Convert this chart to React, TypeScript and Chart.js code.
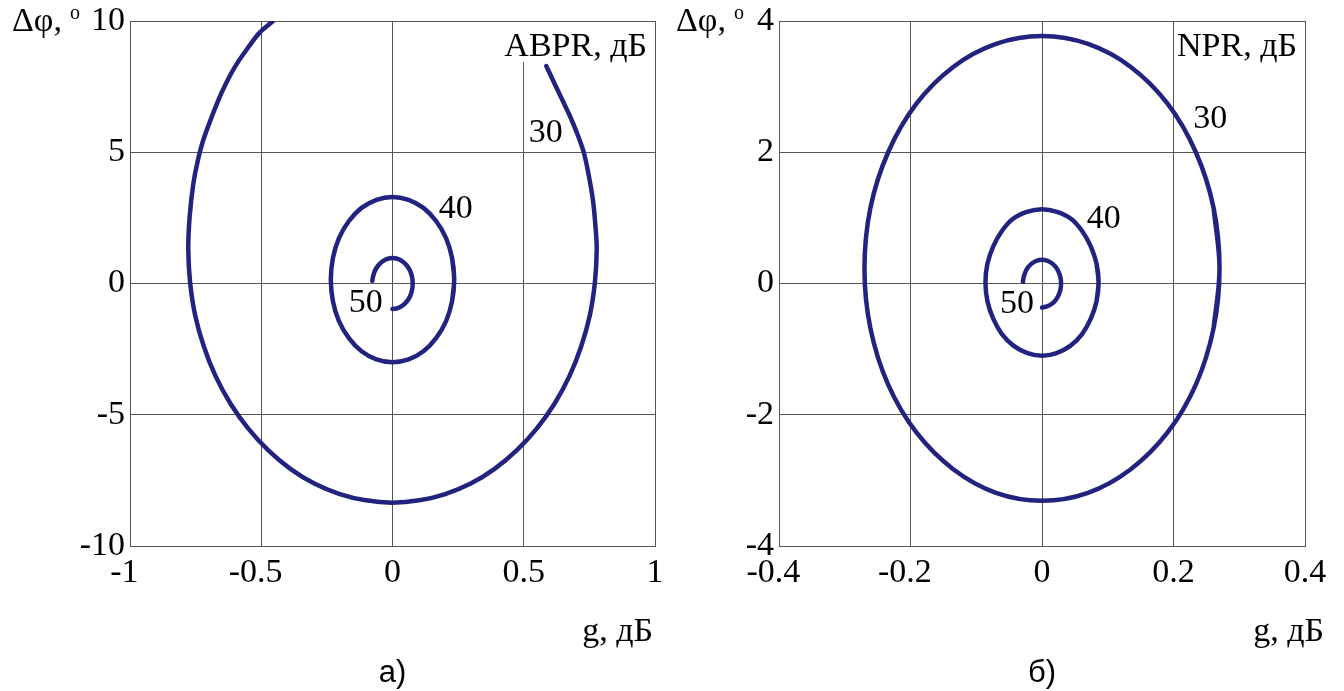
import { useEffect, useRef } from "react";
import { Chart, registerables } from "chart.js";

Chart.register(...registerables);

const SERIF = '"Liberation Serif", "Times New Roman", serif';
const SANS = '"Liberation Sans", Arial, sans-serif';
const LINE_COLOR = "#22227f";
const GRID_COLOR = "#555555";

// ---------- panel а): ABPR contours ----------
const abprXTicks = [-1, -0.5, 0, 0.5, 1];
const abprXLabels = ["-1", "-0.5", "0", "0.5", "1"];
const abprYTicks = [-10, -5, 0, 5, 10];
const abprYLabels = ["-10", "-5", "0", "5", "10"];

// ABPR = 30 dB (open contour, leaves through the top edge)
const abpr30G = [
  -0.455, -0.507, -0.542, -0.595, -0.633, -0.665, -0.718, -0.742, -0.759, -0.773, -0.778, -0.771,
  -0.752, -0.719, -0.674, -0.617, -0.55, -0.474, -0.389, -0.298, -0.201, -0.102, 0.0, 0.102, 0.201,
  0.298, 0.389, 0.474, 0.55, 0.617, 0.674, 0.719, 0.752, 0.771, 0.778, 0.773, 0.764, 0.748, 0.729,
  0.704, 0.675, 0.649, 0.618, 0.586,
];
const abpr30Phi = [
  10.0, 9.55, 9.1, 8.34, 7.65, 6.95, 5.55, 4.67, 3.78, 2.51, 1.3, 0.04, -1.2, -2.39, -3.53, -4.58,
  -5.52, -6.35, -7.06, -7.62, -8.02, -8.26, -8.35, -8.26, -8.02, -7.62, -7.06, -6.35, -5.52, -4.58,
  -3.53, -2.39, -1.2, 0.04, 1.3, 2.2, 3.14, 4.1, 4.98, 5.7, 6.4, 6.95, 7.6, 8.28,
];
// ABPR = 40 dB (closed loop; first and last segments overlap to hide the seam)
const abpr40G = [
  0.227, 0.235, 0.227, 0.204, 0.166, 0.118, 0.061, 0.0, -0.061, -0.118, -0.166, -0.204, -0.227,
  -0.235, -0.227, -0.204, -0.166, -0.118, -0.061, 0.0, 0.061, 0.118, 0.166, 0.204, 0.227, 0.235,
  0.227,
];
const abpr40Phi = [
  -0.67, 0.15, 0.97, 1.73, 2.38, 2.88, 3.19, 3.3, 3.19, 2.88, 2.38, 1.73, 0.97, 0.15, -0.67, -1.43,
  -2.08, -2.58, -2.89, -3.0, -2.89, -2.58, -2.08, -1.43, -0.67, 0.15, 0.97,
];
// ABPR = 50 dB (partial arc)
const abpr50G = [
  -0.077, -0.0744, -0.067, -0.0544, -0.0385, -0.02, 0.0, 0.02, 0.0385, 0.0544, 0.067, 0.0744,
  0.077, 0.0744, 0.067, 0.0544, 0.0385, 0.02, 0.0,
];
const abpr50Phi = [
  0.1, 0.251, 0.485, 0.686, 0.84, 0.937, 0.97, 0.937, 0.84, 0.686, 0.485, 0.251, 0.0, -0.251,
  -0.485, -0.686, -0.84, -0.937, -0.97,
];

// ---------- panel б): NPR contours ----------
const nprXTicks = [-0.4, -0.2, 0, 0.2, 0.4];
const nprXLabels = ["-0.4", "-0.2", "0", "0.2", "0.4"];
const nprYTicks = [-4, -2, 0, 2, 4];
const nprYLabels = ["-4", "-2", "0", "2", "4"];

// NPR = 30 dB (closed loop)
const npr30G = [
  0.261, 0.27, 0.261, 0.234, 0.191, 0.135, 0.07, 0.0, -0.07, -0.135, -0.191, -0.234, -0.261, -0.27,
  -0.261, -0.234, -0.191, -0.135, -0.07, 0.0, 0.07, 0.135, 0.191, 0.234, 0.261, 0.27, 0.261,
];
const npr30Phi = [
  -0.68, 0.23, 1.15, 2.0, 2.74, 3.3, 3.65, 3.77, 3.65, 3.3, 2.74, 2.0, 1.15, 0.23, -0.68, -1.54,
  -2.27, -2.83, -3.19, -3.31, -3.19, -2.83, -2.27, -1.54, -0.68, 0.23, 1.15,
];
// NPR = 40 dB (closed loop)
const npr40G = [
  0.083, 0.086, 0.083, 0.074, 0.061, 0.045, 0.023, 0.0, -0.023, -0.045, -0.061, -0.074, -0.083,
  -0.086, -0.083, -0.074, -0.061, -0.043, -0.022, 0.0, 0.022, 0.043, 0.061, 0.074, 0.083, 0.086,
  0.083,
];
const npr40Phi = [
  -0.27, 0.02, 0.3, 0.57, 0.8, 0.98, 1.09, 1.13, 1.09, 0.98, 0.8, 0.57, 0.3, 0.02, -0.27, -0.54,
  -0.77, -0.95, -1.06, -1.1, -1.06, -0.95, -0.77, -0.54, -0.27, 0.02, 0.3,
];
// NPR = 50 dB (partial arc)
const npr50G = [
  -0.029, -0.028, -0.025, -0.0205, -0.0145, -0.0075, 0.0, 0.0075, 0.0145, 0.0205, 0.025, 0.028,
  0.029, 0.028, 0.025, 0.0205, 0.0145, 0.0075, 0.0,
];
const npr50Phi = [
  0.025, 0.094, 0.181, 0.256, 0.313, 0.35, 0.362, 0.35, 0.313, 0.256, 0.181, 0.094, 0.0, -0.094,
  -0.181, -0.256, -0.313, -0.35, -0.365,
];

const levelNames = ["30", "40", "50"];

type Curve = { g: number[]; phi: number[] };
type Level = { text: string; g: number; phi: number };
type PanelConfig = {
  xTicks: number[];
  xLabels: string[];
  yTicks: number[];
  yLabels: string[];
  curves: Curve[];
  seriesName: string;
  levels: Level[];
  caption: string;
  axisBand: number; // width reserved left of the plot
  padRight: number;
  yTitleOffset: number; // distance from the plot's left edge back to the title start
  xTitleOverhang: number;
};

const panelA: PanelConfig = {
  xTicks: abprXTicks,
  xLabels: abprXLabels,
  yTicks: abprYTicks,
  yLabels: abprYLabels,
  curves: [
    { g: abpr30G, phi: abpr30Phi },
    { g: abpr40G, phi: abpr40Phi },
    { g: abpr50G, phi: abpr50Phi },
  ],
  seriesName: "ABPR, дБ",
  levels: [
    { text: levelNames[0], g: 0.584, phi: 5.73 },
    { text: levelNames[1], g: 0.241, phi: 2.84 },
    { text: levelNames[2], g: -0.102, phi: -0.73 },
  ],
  caption: "а)",
  axisBand: 130,
  padRight: 17,
  yTitleOffset: 118,
  xTitleOverhang: -2,
};

const panelB: PanelConfig = {
  xTicks: nprXTicks,
  xLabels: nprXLabels,
  yTicks: nprYTicks,
  yLabels: nprYLabels,
  curves: [
    { g: npr30G, phi: npr30Phi },
    { g: npr40G, phi: npr40Phi },
    { g: npr50G, phi: npr50Phi },
  ],
  seriesName: "NPR, дБ",
  levels: [
    { text: levelNames[0], g: 0.256, phi: 2.5 },
    { text: levelNames[1], g: 0.094, phi: 0.98 },
    { text: levelNames[2], g: -0.038, phi: -0.31 },
  ],
  caption: "б)",
  axisBand: 107,
  padRight: 39,
  yTitleOffset: 103,
  xTitleOverhang: 19,
};

function textPlugin(cfg: PanelConfig) {
  return {
    id: "panelText",
    beforeDatasetsDraw(chart: any) {
      // white box behind the series name, hiding the grid under it
      const { ctx, chartArea } = chart;
      ctx.save();
      ctx.font = `34px ${SERIF}`;
      const w = ctx.measureText(cfg.seriesName).width;
      ctx.fillStyle = "#ffffff";
      ctx.fillRect(chartArea.right - 8 - w - 1, chartArea.top + 1, w + 2, 40);
      ctx.restore();
    },
    afterDraw(chart: any) {
      const { ctx, chartArea, scales } = chart;
      const xs = scales.x;
      const ys = scales.y;
      ctx.save();
      ctx.fillStyle = "#000000";
      ctx.font = `34px ${SERIF}`;

      // x tick labels: the digits are centred on the tick, a minus sign hangs to the left
      ctx.textAlign = "left";
      ctx.textBaseline = "alphabetic";
      const tickBase = chartArea.bottom + 36;
      cfg.xTicks.forEach((v, i) => {
        const label = cfg.xLabels[i];
        const px = xs.getPixelForValue(v);
        const neg = label.startsWith("-");
        const body = neg ? label.slice(1) : label;
        const bw = ctx.measureText(body).width;
        const left = px - bw / 2;
        ctx.fillText(body, left, tickBase);
        if (neg) {
          const mw = ctx.measureText("-").width;
          ctx.fillText("-", left - mw, tickBase);
        }
      });

      // series name in the top-right corner
      ctx.textAlign = "right";
      ctx.fillText(cfg.seriesName, chartArea.right - 8, chartArea.top + 35);

      // contour level labels
      ctx.textAlign = "center";
      ctx.textBaseline = "middle";
      cfg.levels.forEach((lv) => {
        ctx.fillText(lv.text, xs.getPixelForValue(lv.g), ys.getPixelForValue(lv.phi));
      });

      // y axis title with degree superscript
      ctx.textAlign = "left";
      ctx.textBaseline = "alphabetic";
      const tx = chartArea.left - cfg.yTitleOffset;
      const main = "Δφ,";
      ctx.fillText(main, tx, chartArea.top + 10);
      const mw = ctx.measureText(main).width;
      ctx.font = `20px ${SERIF}`;
      ctx.fillText("o", tx + mw + 8, chartArea.top - 2);

      // x axis title
      ctx.font = `34px ${SERIF}`;
      ctx.textAlign = "right";
      ctx.fillText("g, дБ", chartArea.right + cfg.xTitleOverhang, chartArea.bottom + 95);

      // panel caption
      ctx.font = `31px ${SANS}`;
      ctx.textAlign = "center";
      ctx.fillText(cfg.caption, xs.getPixelForValue(0), 682);
      ctx.restore();
    },
  };
}

function Panel({ cfg, left }: { cfg: PanelConfig; left: number }) {
  const ref = useRef<HTMLCanvasElement>(null);
  useEffect(() => {
    const canvas = ref.current;
    if (!canvas) return;
    const zeroPad = (s: any) => {
      s.paddingLeft = 0;
      s.paddingRight = 0;
      s.paddingTop = 0;
      s.paddingBottom = 0;
    };
    const chart = new Chart(canvas, {
      type: "scatter",
      data: {
        datasets: cfg.curves.map((c) => ({
          data: c.g.map((g, i) => ({ x: g, y: c.phi[i] })),
          showLine: true,
          borderColor: LINE_COLOR,
          backgroundColor: LINE_COLOR,
          borderWidth: 4.5,
          pointRadius: 0,
          tension: 0.35,
          fill: false,
          borderCapStyle: "round",
          borderJoinStyle: "round",
        })),
      },
      options: {
        responsive: false,
        animation: false,
        devicePixelRatio: 1,
        events: [],
        layout: { padding: { left: 0, top: 21, right: cfg.padRight, bottom: 0 } },
        plugins: { legend: { display: false }, tooltip: { enabled: false } },
        scales: {
          x: {
            type: "linear",
            min: cfg.xTicks[0],
            max: cfg.xTicks[cfg.xTicks.length - 1],
            afterBuildTicks: (s: any) => {
              s.ticks = cfg.xTicks.map((v) => ({ value: v }));
            },
            ticks: { display: false },
            grid: { color: GRID_COLOR, lineWidth: 1, drawTicks: false },
            border: { color: GRID_COLOR, width: 1 },
            afterFit: (s: any) => {
              s.height = 145;
              zeroPad(s);
            },
          },
          y: {
            type: "linear",
            min: cfg.yTicks[0],
            max: cfg.yTicks[cfg.yTicks.length - 1],
            afterBuildTicks: (s: any) => {
              s.ticks = cfg.yTicks.map((v) => ({ value: v }));
            },
            ticks: {
              autoSkip: false,
              padding: 5,
              color: "#000000",
              font: { family: SERIF, size: 34 },
              callback: (_v: any, i: number) => cfg.yLabels[i],
            },
            grid: { color: GRID_COLOR, lineWidth: 1, drawTicks: false },
            border: { color: GRID_COLOR, width: 1 },
            afterFit: (s: any) => {
              s.width = cfg.axisBand;
              zeroPad(s);
            },
          },
        },
      } as any,
      plugins: [textPlugin(cfg)],
    });
    return () => chart.destroy();
  }, [cfg]);
  return (
    <canvas
      ref={ref}
      width={672}
      height={691}
      style={{ position: "absolute", left, top: 0, width: 672, height: 691 }}
    />
  );
}

export default function App() {
  return (
    <div
      style={{
        position: "absolute",
        left: 0,
        top: 0,
        width: 1344,
        height: 691,
        background: "#ffffff",
        overflow: "hidden",
      }}
    >
      <Panel cfg={panelA} left={0} />
      <Panel cfg={panelB} left={672} />
    </div>
  );
}
